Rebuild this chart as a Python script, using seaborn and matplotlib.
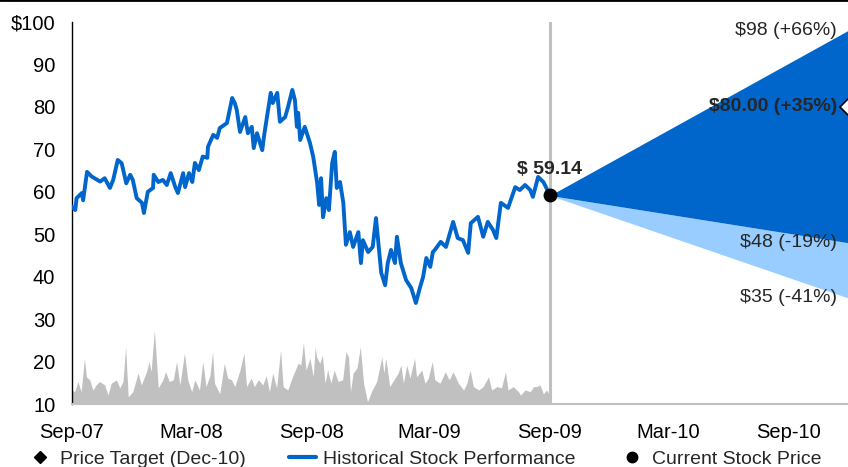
import matplotlib
matplotlib.use("Agg")
import matplotlib.pyplot as plt
from matplotlib.lines import Line2D
import numpy as np
import pandas as pd
import seaborn as sns

# ---- data -------------------------------------------------------------
START = "2007-09-01"

# historical closing prices (days after START, $)
price_day = [0, 5, 7, 15, 17, 23, 30, 43, 50, 58, 63, 70, 76, 83, 89, 93, 99, 107,
             110, 116, 124, 125, 132, 139, 145, 151, 158, 162, 170, 173, 179, 184,
             188, 194, 200, 207, 208, 216, 222, 226, 237, 245, 249, 252, 257, 265,
             269, 275, 278, 283, 291, 294, 298, 304, 307, 314, 318, 326, 330, 337,
             341, 344, 346, 349, 356, 364, 369, 375, 378, 381, 384, 389, 393, 398,
             402, 405, 410, 415, 419, 425, 430, 438, 442, 445, 453, 460, 465, 473,
             479, 483, 488, 494, 497, 503, 511, 519, 526, 532, 537, 542, 548, 552,
             555, 564, 572, 583, 590, 598, 606, 610, 621, 629, 636, 644, 649, 656,
             667, 678, 685, 693, 701, 705, 713, 721, 725, 731]
price = [56.5, 55.7, 58.5, 59.7, 58.0, 64.7, 63.6, 62.4, 63.2, 60.9, 62.8, 67.5,
         66.7, 62.0, 64.0, 62.8, 58.5, 57.4, 55.0, 60.0, 60.9, 64.0, 62.3, 62.8,
         61.6, 64.4, 61.1, 59.7, 64.4, 61.1, 64.4, 62.3, 66.8, 65.1, 68.3, 68.0,
         70.6, 73.4, 72.7, 75.0, 76.2, 82.1, 80.9, 79.3, 74.1, 77.6, 73.8, 75.3,
         70.3, 73.8, 69.8, 73.4, 77.4, 83.3, 80.9, 83.3, 76.5, 77.6, 79.7, 84.0,
         81.6, 75.3, 78.6, 72.2, 75.3, 71.5, 68.2, 62.1, 56.9, 63.2, 54.0, 58.5,
         55.7, 66.8, 69.4, 60.9, 62.3, 57.4, 47.5, 50.5, 47.0, 50.5, 43.2, 48.6,
         45.8, 47.0, 53.8, 40.9, 38.0, 43.2, 46.3, 43.2, 49.4, 43.2, 39.2, 37.3,
         33.8, 37.3, 39.9, 44.4, 42.3, 45.8, 46.3, 48.2, 47.0, 52.9, 49.1, 48.6,
         45.6, 52.6, 54.1, 49.4, 52.9, 51.0, 49.1, 57.4, 56.2, 61.1, 60.4, 61.6,
         60.4, 58.8, 63.5, 62.3, 61.1, 59.14]

# trading volume, drawn on the price scale (days after START)
vol_day = [0, 4, 9, 14, 19, 22, 27, 32, 37, 42, 50, 55, 60, 68, 73, 78, 82, 86, 93,
           101, 106, 114, 118, 121, 126, 132, 139, 143, 149, 155, 160, 165, 172, 177,
           183, 188, 195, 200, 205, 211, 215, 218, 226, 233, 238, 244, 249, 257, 263,
           267, 274, 279, 285, 292, 297, 302, 307, 313, 319, 323, 330, 338, 346, 350,
           354, 358, 364, 369, 372, 374, 379, 383, 387, 391, 396, 401, 407, 414, 419,
           423, 426, 430, 436, 441, 446, 452, 458, 466, 474, 477, 480, 486, 494, 499,
           503, 507, 512, 517, 524, 527, 535, 540, 545, 551, 555, 563, 571, 577, 583,
           591, 599, 604, 609, 614, 622, 629, 637, 642, 650, 657, 663, 667, 675, 683,
           686, 693, 701, 706, 711, 716, 721, 726, 729]
volume = [13.3, 12.9, 15.3, 12.9, 20.8, 16.4, 15.7, 13.3, 14.5, 15.3, 14.5, 12.1,
          14.9, 15.7, 13.8, 15.3, 23.5, 11.7, 12.9, 17.3, 14.5, 17.6, 20.0, 17.6,
          27.4, 13.8, 15.7, 17.6, 15.3, 15.7, 20.0, 14.5, 22.0, 15.7, 12.9, 15.7,
          13.3, 20.0, 14.1, 16.7, 22.3, 14.9, 12.4, 19.6, 16.1, 15.7, 14.1, 18.0,
          22.0, 14.1, 16.1, 14.1, 15.7, 14.5, 16.7, 12.9, 17.3, 13.8, 22.7, 14.1,
          13.3, 16.7, 19.6, 19.2, 24.4, 18.0, 20.8, 16.4, 23.5, 21.1, 19.6, 21.5,
          14.9, 18.0, 14.9, 18.0, 15.3, 15.7, 22.3, 21.1, 12.9, 17.3, 18.5, 23.5,
          14.9, 10.5, 12.9, 15.3, 21.1, 17.3, 20.8, 14.1, 16.1, 17.3, 19.2, 14.9,
          19.2, 16.1, 20.8, 16.4, 18.0, 14.9, 16.1, 20.0, 15.7, 14.9, 17.6, 15.7,
          17.6, 14.9, 13.3, 14.9, 18.0, 14.1, 13.3, 14.1, 16.4, 13.3, 14.1, 13.8,
          17.6, 13.3, 14.1, 12.9, 12.1, 13.3, 12.9, 14.1, 14.1, 14.5, 12.4, 13.3,
          12.5]

current_date = "2009-09-01"
current_price = 59.14
target_date = "2010-12-01"
target_high = 98
target_price = 80.00
target_mid = 48
target_low = 35

tick_dates = ["2007-09-01", "2008-03-01", "2008-09-01", "2009-03-01",
              "2009-09-01", "2010-03-01", "2010-09-01"]
tick_labels = ["Sep-07", "Mar-08", "Sep-08", "Mar-09", "Sep-09", "Mar-10", "Sep-10"]
y_ticks = [10, 20, 30, 40, 50, 60, 70, 80, 90, 100]
y_labels = ["10", "20", "30", "40", "50", "60", "70", "80", "90", "$100"]

legend_labels = ["Price Target (Dec-10)", "Historical Stock Performance",
                 "Current Stock Price"]

# ---- style ------------------------------------------------------------
sns.set_style("white")
plt.rcParams["font.family"] = ["Liberation Sans", "DejaVu Sans"]

DARK = "#0066cc"
LIGHT = "#99ccff"
GREY = "#c0c0c0"
FS = 14

start = pd.Timestamp(START)
hist = pd.DataFrame({"date": start + pd.to_timedelta(price_day, unit="D"),
                     "price": price})
vol = pd.DataFrame({"date": start + pd.to_timedelta(vol_day, unit="D"),
                    "volume": volume})
now = pd.Timestamp(current_date)
tgt = pd.Timestamp(target_date)

W, H = 848, 467
fig = plt.figure(figsize=(W / 100, H / 100), dpi=100)
ax = fig.add_axes([72 / W, 1 - 404 / H, 1 - 72 / W, (404 - 22) / H])

# volume backdrop
ax.fill_between(vol["date"], 10, vol["volume"], color=GREY, lw=0, zorder=1)

# historical price
sns.lineplot(data=hist, x="date", y="price", color=DARK, lw=2.8, ax=ax, zorder=3)

# price target fan
ax.fill_between([now, tgt], [current_price, target_low], [current_price, target_mid],
                color=LIGHT, lw=0, zorder=2)
ax.fill_between([now, tgt], [current_price, target_mid], [current_price, target_high],
                color=DARK, lw=0, zorder=2)

# today marker
ax.axvline(now, color=GREY, lw=2.2, zorder=1.5)
ax.plot([now], [current_price], "o", color="black", ms=9, zorder=5)
ax.annotate(f"$ {current_price:.2f}", (now, current_price), xytext=(0, 19),
            textcoords="offset points", ha="center", va="center",
            fontsize=FS, fontweight="bold")

# target labels
ax.plot([tgt], [target_price], "D", mfc="white", mec="black", ms=8, mew=1.2, zorder=6)
for val, txt, weight in [
    (target_high, f"${target_high} (+{round((target_high / current_price - 1) * 100)}%)", "normal"),
    (target_price, f"${target_price:.2f} (+{round((target_price / current_price - 1) * 100)}%)", "bold"),
    (target_mid, f"${target_mid} ({round((target_mid / current_price - 1) * 100)}%)", "normal"),
    (target_low, f"${target_low} ({round((target_low / current_price - 1) * 100)}%)", "normal"),
]:
    ax.annotate(txt, (tgt, val), xytext=(-8, 0), textcoords="offset points",
                ha="right", va="center", fontsize=FS, fontweight=weight, zorder=7)

# axes
ax.set_xlim(start, tgt)
ax.set_ylim(10, 100)
ax.set_xticks(pd.to_datetime(tick_dates))
ax.set_xticklabels(tick_labels)
ax.set_yticks(y_ticks)
ax.set_yticklabels(y_labels)
ax.set_xlabel("")
ax.set_ylabel("")
ax.tick_params(axis="both", length=0, labelsize=14.5, colors="black")
ax.tick_params(axis="x", pad=14)
ax.tick_params(axis="y", pad=12)
for side in ("top", "right"):
    ax.spines[side].set_visible(False)
ax.spines["left"].set_color("black")
ax.spines["left"].set_linewidth(1.0)
ax.spines["bottom"].set_color(GREY)
ax.spines["bottom"].set_linewidth(1.5)

# legend
handles = [
    Line2D([], [], marker="D", ls="none", color="black", ms=6),
    Line2D([], [], color=DARK, lw=3),
    Line2D([], [], marker="o", ls="none", color="black", ms=7.5),
]
fig.legend(handles, legend_labels, loc="center", bbox_to_anchor=(0.5, 1 - 459 / H),
           ncol=3, frameon=False, fontsize=FS, handlelength=1.4,
           handletextpad=0.35, columnspacing=2.2, borderaxespad=0)

# frame rule along the top edge
fig.add_artist(Line2D([0, 1], [1, 1], transform=fig.transFigure, color="black", lw=2))

fig.savefig("out.png", dpi=100)
